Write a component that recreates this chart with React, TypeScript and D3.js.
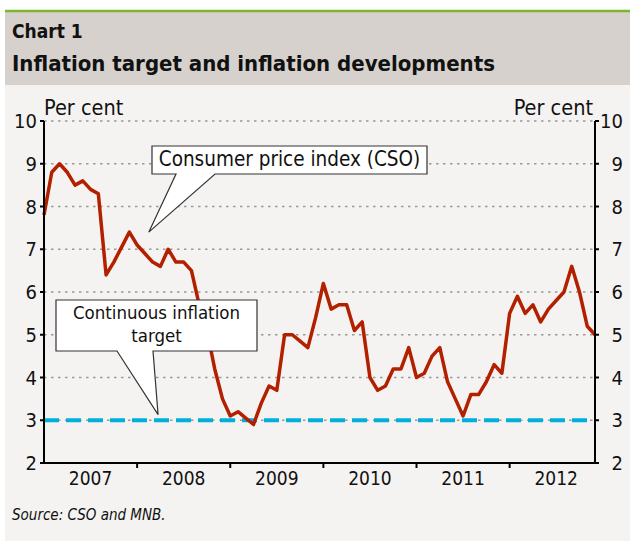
import React from 'react';
import * as d3 from 'd3';

// Hungarian CPI, monthly, Jan 2007 - Dec 2012 (per cent, y/y)
const years = ['2007', '2008', '2009', '2010', '2011', '2012'];
const cpi2007 = [7.8, 8.8, 9.0, 8.8, 8.5, 8.6, 8.4, 8.3, 6.4, 6.7, 7.05, 7.4];
const cpi2008 = [7.1, 6.9, 6.7, 6.6, 7.0, 6.7, 6.7, 6.5, 5.7, 5.1, 4.2, 3.5];
const cpi2009 = [3.1, 3.2, 3.05, 2.9, 3.4, 3.8, 3.7, 5.0, 5.0, 4.85, 4.7, 5.4];
const cpi2010 = [6.2, 5.6, 5.7, 5.7, 5.1, 5.3, 4.0, 3.7, 3.8, 4.2, 4.2, 4.7];
const cpi2011 = [4.0, 4.1, 4.5, 4.7, 3.9, 3.5, 3.1, 3.6, 3.6, 3.9, 4.3, 4.1];
const cpi2012 = [5.5, 5.9, 5.5, 5.7, 5.3, 5.6, 5.8, 6.0, 6.6, 6.0, 5.2, 5.0];
const cpi = [...cpi2007, ...cpi2008, ...cpi2009, ...cpi2010, ...cpi2011, ...cpi2012];
const target = 3;
const yTicks = [2, 3, 4, 5, 6, 7, 8, 9, 10];

const W = 630;
const H = 541;
const left = 44;
const right = 595;
const top = 121;
const bottom = 463;

const font = "'DejaVu Sans Condensed', 'DejaVu Sans', sans-serif";

const App = () => {
  const x = d3.scaleLinear().domain([0, cpi.length - 1]).range([left, right]);
  const y = d3.scaleLinear().domain([2, 10]).range([bottom, top]);

  const line = d3.line<number>()
    .x((d, i) => x(i))
    .y(d => y(d));

  // callout tips in data units
  const tip1 = [x(13.5), y(7.4)];
  const tip2 = [x(14.7), y(3.13)];

  return (
    <svg width={W} height={H} style={{ position: 'absolute', left: 0, top: 0 }}
      fontFamily={font} fontStretch="condensed">
      <rect x={5} y={12} width={W - 5} height={73} fill="#d6d1cc" />
      <rect x={5} y={85} width={W - 5} height={H - 85} fill="#f5f3f1" />
      <line x1={5} x2={W} y1={11} y2={11} stroke="#7ab929" strokeWidth={2.5} />
      <text x={12} y={38} fontSize={19} fontWeight="bold" fill="#111">Chart 1</text>
      <text x={12} y={71} fontSize={22} fontWeight="bold" fill="#111">
        Inflation target and inflation developments
      </text>

      {/* gridlines */}
      {yTicks.filter(t => t > 2).map(t => (
        <line key={t} x1={left} x2={right} y1={y(t)} y2={y(t)}
          stroke="#9a9a9a" strokeWidth={1.5} strokeDasharray="2.5 4.5" />
      ))}

      {/* target */}
      <line x1={left} x2={right} y1={y(target)} y2={y(target)}
        stroke="#00afdb" strokeWidth={4} strokeDasharray="15 7" />

      {/* CPI */}
      <path d={line(cpi) || ''} fill="none" stroke="#b22000" strokeWidth={3.5}
        strokeLinejoin="round" />

      {/* axes */}
      <line x1={left} x2={left} y1={top} y2={bottom} stroke="#000" strokeWidth={2} />
      <line x1={right} x2={right} y1={top} y2={bottom} stroke="#000" strokeWidth={2} />
      <line x1={left - 1} x2={right + 1} y1={bottom} y2={bottom} stroke="#000" strokeWidth={2} />
      {yTicks.map(t => (
        <g key={t}>
          <line x1={left - 4} x2={left} y1={y(t)} y2={y(t)} stroke="#000" strokeWidth={2} />
          <line x1={right} x2={right + 4} y1={y(t)} y2={y(t)} stroke="#000" strokeWidth={2} />
          <text x={37} y={y(t) + 7} fontSize={20} textAnchor="end" fill="#111">{t}</text>
          <text x={623} y={y(t) + 7} fontSize={20} textAnchor="end" fill="#111">{t}</text>
        </g>
      ))}
      {years.map((yr, k) => (
        <g key={yr}>
          {k > 0 && (
            <line x1={x(k * 12)} x2={x(k * 12)} y1={bottom} y2={bottom + 5}
              stroke="#000" strokeWidth={2} />
          )}
          <text x={x(k * 12 + 6)} y={485} fontSize={19} textAnchor="middle" fill="#111">{yr}</text>
        </g>
      ))}
      <text x={left} y={115} fontSize={21.5} fill="#111">Per cent</text>
      <text x={593} y={115} fontSize={21.5} textAnchor="end" fill="#111">Per cent</text>

      {/* callouts */}
      <path d={`M152,146 H427 V174 H215 L${tip1[0]},${tip1[1]} L176,174 H152 Z`}
        fill="#fff" stroke="#333" strokeWidth={1.2} />
      <text x={289.5} y={166} fontSize={20.5} textAnchor="middle" fill="#111">
        Consumer price index (CSO)
      </text>
      <path d={`M56,300 H257 V351 H153 L${tip2[0]},${tip2[1]} L117,351 H56 Z`}
        fill="#fff" stroke="#333" strokeWidth={1.2} />
      <text x={156.5} y={319} fontSize={18.5} textAnchor="middle" fill="#111">
        Continuous inflation
      </text>
      <text x={156.5} y={342} fontSize={18.5} textAnchor="middle" fill="#111">target</text>

      <text x={12} y={520} fontSize={15} fontStyle="italic" fill="#111">Source: CSO and MNB.</text>
    </svg>
  );
};

export default App;
